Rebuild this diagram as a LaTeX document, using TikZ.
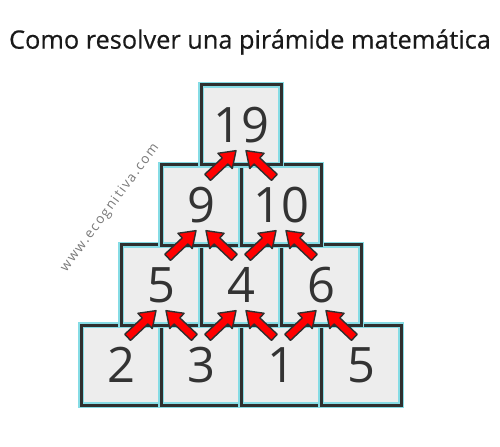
\documentclass[tikz,border=0pt]{standalone}
\usepackage{fontspec}
\setmainfont{Open Sans}
\usetikzlibrary{calc}
\definecolor{boxfill}{HTML}{EDEDED}
\definecolor{boxline}{HTML}{2F2F2F}
\definecolor{glow}{HTML}{86DCE5}
\definecolor{arrred}{HTML}{FF0000}
\definecolor{numcol}{HTML}{333333}
\definecolor{wmcol}{HTML}{7A7A7A}
\newcommand\fatarrow[2]{%
  \coordinate (fa-s) at #1;
  \coordinate (fa-e) at #2;
  \coordinate (fa-h) at ($(fa-e)!15bp!(fa-s)$);
  \filldraw[fatarrowsty]
    ($(fa-s)!4.2bp!90:(fa-e)$) -- ($(fa-h)!4.2bp!90:(fa-e)$) --
    ($(fa-h)!10.5bp!90:(fa-e)$) -- (fa-e) --
    ($(fa-h)!10.5bp!-90:(fa-e)$) -- ($(fa-h)!4.2bp!-90:(fa-e)$) --
    ($(fa-s)!4.2bp!-90:(fa-e)$) -- cycle;}
\begin{document}
\begin{tikzpicture}[x=1bp,y=-1bp,
  cell/.style={rectangle, minimum width=80bp, minimum height=80bp, inner sep=0pt,
    fill=boxfill, draw=glow, line width=1.3bp, double=boxline, double distance=3bp,
    text=numcol, font=\fontsize{49}{55}\selectfont},
  fatarrowsty/.style={fill=arrred, draw=boxline, line width=1.4bp, line join=round}]
\useasboundingbox (0,0) rectangle (500,447);
\node[font=\fontsize{25.4}{30}\selectfont\addfontfeatures{FakeBold=0.5}, text=black!90] (title) at (250,42) {Como resolver una pirámide matemática};
\node[rotate=53.5, text=wmcol, font=\fontsize{13.5}{16}\selectfont\addfontfeatures{LetterSpace=12}] (wm) at (110,208) {www.ecognitiva.com};
% bottom row
\node[cell] (a1) at (121,365) {2};
\node[cell] (a2) at (201,365) {3};
\node[cell] (a3) at (281,365) {1};
\node[cell] (a4) at (361,365) {5};
% third row
\node[cell] (b1) at (161,285) {5};
\node[cell] (b2) at (241,285) {4};
\node[cell] (b3) at (321,285) {6};
% second row
\node[cell] (c1) at (201,205) {9};
\node[cell] (c2) at (281,205) {10};
% top
\node[cell] (d1) at (241,125) {19};
% arrows into row 3
\fatarrow{($(a1.north east)+(-34,13)$)}{($(b1.south)+(-5,-15)$)}
\fatarrow{($(a2.north west)+(34,13)$)}{($(b1.south)+(5,-15)$)}
\fatarrow{($(a2.north east)+(-34,13)$)}{($(b2.south)+(-5,-15)$)}
\fatarrow{($(a3.north west)+(34,13)$)}{($(b2.south)+(5,-15)$)}
\fatarrow{($(a3.north east)+(-34,13)$)}{($(b3.south)+(-5,-15)$)}
\fatarrow{($(a4.north west)+(34,13)$)}{($(b3.south)+(5,-15)$)}
% arrows into row 2
\fatarrow{($(b1.north east)+(-34,13)$)}{($(c1.south)+(-5,-15)$)}
\fatarrow{($(b2.north west)+(34,13)$)}{($(c1.south)+(5,-15)$)}
\fatarrow{($(b2.north east)+(-34,13)$)}{($(c2.south)+(-5,-15)$)}
\fatarrow{($(b3.north west)+(34,13)$)}{($(c2.south)+(5,-15)$)}
% arrows into top
\fatarrow{($(c1.north east)+(-34,13)$)}{($(d1.south)+(-5,-15)$)}
\fatarrow{($(c2.north west)+(34,13)$)}{($(d1.south)+(5,-15)$)}
\end{tikzpicture}
\end{document}
